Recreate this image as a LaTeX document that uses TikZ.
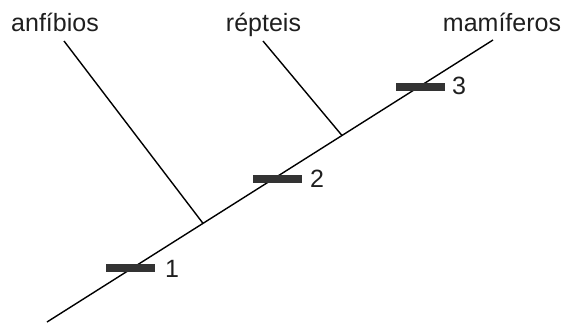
\documentclass[tikz,border=0pt]{standalone}
\usepackage{fontspec}
\setmainfont{Liberation Sans}
\usetikzlibrary{calc}
\begin{document}
\begin{tikzpicture}[x=1pt,y=-1pt,
  taxon/.style={anchor=base,inner sep=0pt,text=black!88,font=\fontsize{25}{30}\selectfont},
  num/.style={anchor=west,inner sep=0pt,text=black!88,font=\fontsize{25}{30}\selectfont},
  bar/.style={fill=black!80,draw=none,minimum width=49pt,minimum height=8pt,inner sep=0pt},
  branch/.style={line width=1.4pt,black}]
\useasboundingbox (0,0) rectangle (565,325);
% labels
\node[taxon] (anf) at (55,31) {anfíbios};
\node[taxon] (rep) at (263.5,31) {répteis};
\node[taxon] (mam) at (502,31) {mamíferos};
% coordinates
\coordinate (root) at (47,322);
\coordinate (tip) at (493,40);
\coordinate (aend) at (64,41);
\coordinate (rend) at (263,41);
\coordinate (j1) at ($(root)!0.3498!(tip)$);
\coordinate (j2) at ($(root)!0.6614!(tip)$);
% lines
\draw[branch] (root) -- (tip);
\draw[branch] (aend) -- (j1);
\draw[branch] (rend) -- (j2);
% bars
\node[bar] (b1) at (130.5,268) {};
\node[bar] (b2) at (277,178.5) {};
\node[bar] (b3) at (420,86.5) {};
\node[num] (n1) at (165,269) {1};
\node[num] (n2) at (310,179) {2};
\node[num] (n3) at (452,86) {3};
\end{tikzpicture}
\end{document}
